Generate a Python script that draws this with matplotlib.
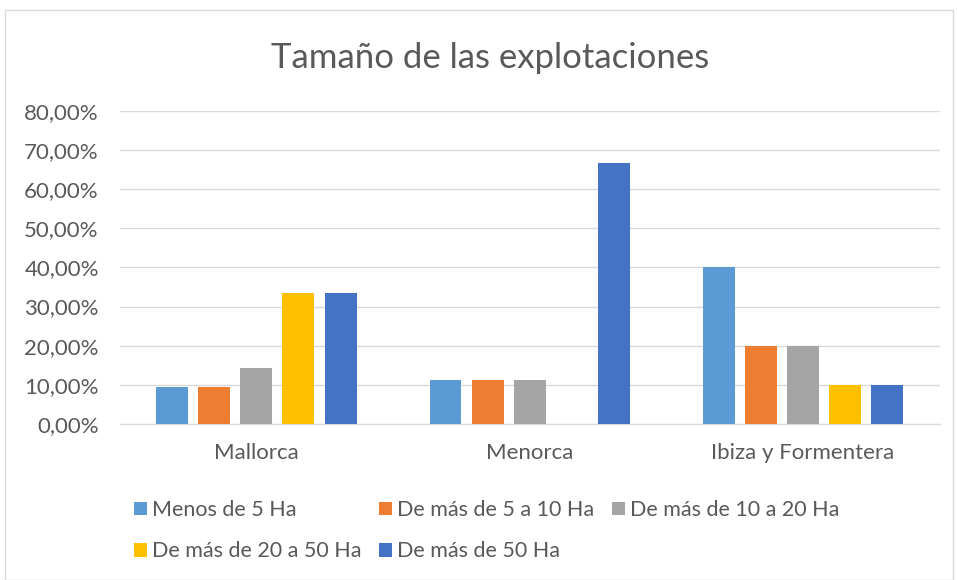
import matplotlib.pyplot as plt
import numpy as np
from matplotlib.patches import Rectangle
from matplotlib.ticker import FuncFormatter

# data
islands = ['Mallorca', 'Menorca', 'Ibiza y Formentera']
series_names = ['Menos de 5 Ha', 'De más de 5 a 10 Ha', 'De más de 10 a 20 Ha',
                'De más de 20 a 50 Ha', 'De más de 50 Ha']
menos_5 = [9.52, 11.11, 40.0]
de_5_10 = [9.52, 11.11, 20.0]
de_10_20 = [14.29, 11.11, 20.0]
de_20_50 = [33.33, 0.0, 10.0]
mas_50 = [33.33, 66.67, 10.0]
colors = ['#5b9bd5', '#ed7d31', '#a5a5a5', '#ffc000', '#4472c4']

plt.rcParams['font.family'] = ['Lato', 'DejaVu Sans']
text_col = '#595959'

fig = plt.figure(figsize=(9.57, 5.8), dpi=100)
fig.patches.append(Rectangle((5 / 957, 0), 948 / 957, 570 / 580, transform=fig.transFigure,
                             fill=False, edgecolor='#d9d9d9', linewidth=1))
ax = fig.add_axes([0.125, 0.269, 0.857, 0.54])

all_series = [menos_5, de_5_10, de_10_20, de_20_50, mas_50]
x = np.arange(len(islands))
step = 0.154
width = 0.117
handles = []
for i, vals in enumerate(all_series):
    b = ax.bar(x + (i - 2) * step, vals, width, color=colors[i], label=series_names[i], zorder=3)
    handles.append(b)

ax.set_xlim(-0.5, 2.5)
ax.set_ylim(0, 80)
ax.set_yticks(np.arange(0, 81, 10))
ax.yaxis.set_major_formatter(FuncFormatter(lambda v, p: ('%.2f%%' % v).replace('.', ',')))
ax.set_xticks(x)
ax.set_xticklabels(islands)
ax.tick_params(axis='both', length=0, labelsize=16, colors=text_col)
ax.tick_params(axis='x', pad=14)
ax.tick_params(axis='y', pad=15)
ax.grid(axis='y', color='#d9d9d9', linewidth=1, zorder=0)
for s in ['top', 'right', 'left']:
    ax.spines[s].set_visible(False)
ax.spines['bottom'].set_color('#d9d9d9')

fig.text(0.512, 0.9, 'Tamaño de las explotaciones', ha='center', va='center',
         fontsize=25, color=text_col)

order = [0, 3, 1, 4, 2]
leg = fig.legend([handles[k] for k in order], [series_names[k] for k in order],
                 ncol=3, loc='upper left', bbox_to_anchor=(0.140, 0.138),
                 frameon=False, fontsize=15.5, handlelength=0.6, handleheight=0.6,
                 handletextpad=0.25, columnspacing=0.8, labelspacing=1.0,
                 borderaxespad=0, borderpad=0)
for t in leg.get_texts():
    t.set_color(text_col)

fig.savefig('out.png', dpi=100)
